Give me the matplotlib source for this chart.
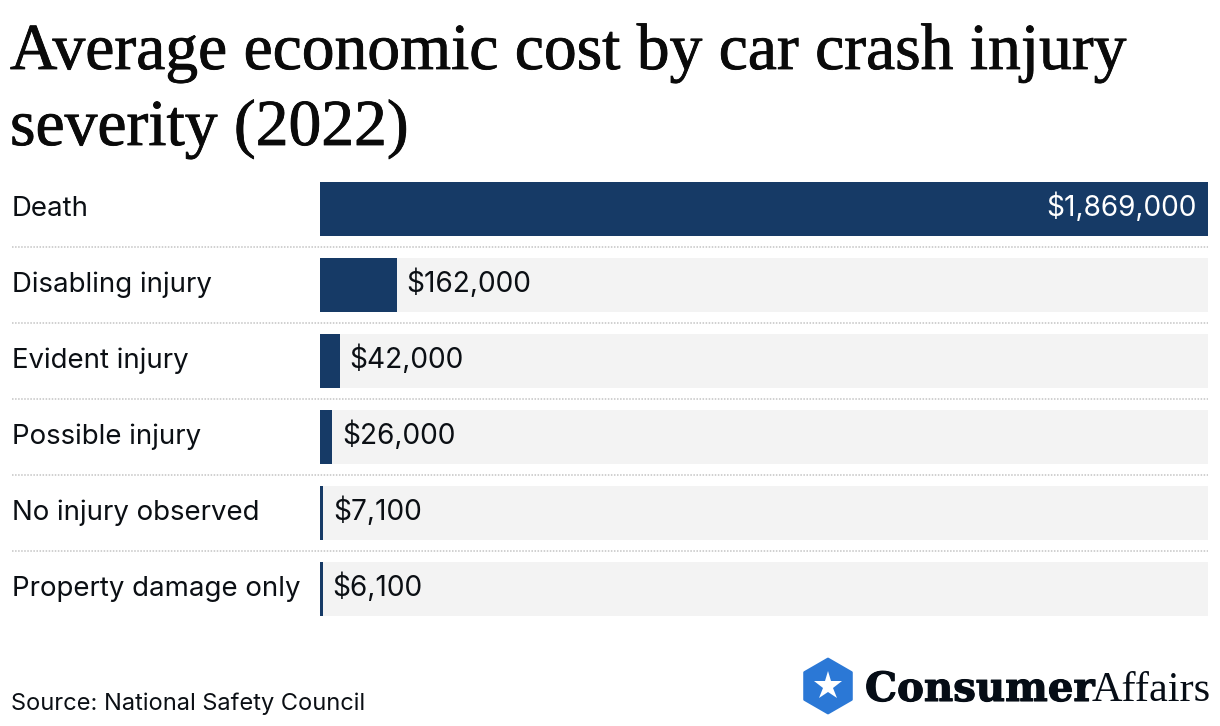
import matplotlib
matplotlib.use('Agg')
import matplotlib.pyplot as plt
import matplotlib.patheffects as pe
from matplotlib.lines import Line2D
from matplotlib.patches import RegularPolygon

categories = ['Death', 'Disabling injury', 'Evident injury', 'Possible injury',
              'No injury observed', 'Property damage only']
costs = [1869000, 162000, 42000, 26000, 7100, 6100]
cost_labels = ['$1,869,000', '$162,000', '$42,000', '$26,000', '$7,100', '$6,100']
title_lines = ['Average economic cost by car crash injury', 'severity (2022)']
source = 'Source: National Safety Council'

W, H = 1220, 726
NAVY = '#163a66'
TRACK = '#f3f3f3'
INK = '#0b0f14'
BODY = 'Inter'


def fx(px):
    return px / W


def fy(px):
    return 1 - px / H


fig = plt.figure(figsize=(W / 100, H / 100), dpi=100)
fig.patch.set_facecolor('white')

# bars, six rows of 76px
ax = fig.add_axes([fx(320), fy(627), fx(888), 456 / H])
ax.set_xlim(0, costs[0])
ax.set_ylim(5.5, -0.5)
ax.axis('off')
rows = range(len(categories))
ax.barh(rows, [costs[0]] * len(costs), height=54 / 76, color=TRACK)
ax.barh(rows, costs, height=54 / 76, color=NAVY)

for i, (name, cost, label) in enumerate(zip(categories, costs, cost_labels)):
    y_px = 216 + 76 * i
    fig.text(fx(12), fy(y_px), name, fontsize=19.9, family=BODY,
             color=INK, va='baseline', ha='left')
    if i == 0:
        ax.annotate(label, (cost, i), xytext=(-8, -5), textcoords='offset points',
                    color='white', fontsize=20.2, family=BODY,
                    ha='right', va='baseline')
    else:
        ax.annotate(label, (cost, i), xytext=(7, -5), textcoords='offset points',
                    color=INK, fontsize=20.2, family=BODY,
                    ha='left', va='baseline')

# dotted separators
for y_px in [247, 323, 399, 475, 551]:
    fig.add_artist(Line2D([fx(12), fx(1208)], [fy(y_px), fy(y_px)], color='#c4c4c4',
                          lw=1.1, ls=(0, (1, 1))))

# title
for line, base in zip(title_lines, [69, 145]):
    fig.text(fx(10), fy(base), line, fontsize=47.2, family='Liberation Serif',
             color='#0a0a0a', va='baseline', ha='left',
             path_effects=[pe.withStroke(linewidth=0.6, foreground='#0a0a0a')])

fig.text(fx(11), fy(710), source, fontsize=17, family=BODY,
         color=INK, va='baseline', ha='left')

# logo
logo = fig.add_axes([0, 0, 1, 1], facecolor='none')
logo.set_xlim(0, W)
logo.set_ylim(H, 0)
logo.axis('off')
logo.add_patch(RegularPolygon((828, 686), 6, radius=27, color='#2b78d6', lw=2, joinstyle='round'))
logo.plot([828], [686], marker='*', ms=21, color='white', mew=0)
logo.text(865, 701, 'Consumer', fontsize=29, family='DejaVu Serif', weight='bold',
          color='#060d16', va='baseline', ha='left',
          path_effects=[pe.withStroke(linewidth=0.8, foreground='#060d16')])
logo.text(1092, 701, 'Affairs', fontsize=30.5, family='Liberation Serif',
          color='#060d16', va='baseline', ha='left')

fig.savefig('out.png', dpi=100)
